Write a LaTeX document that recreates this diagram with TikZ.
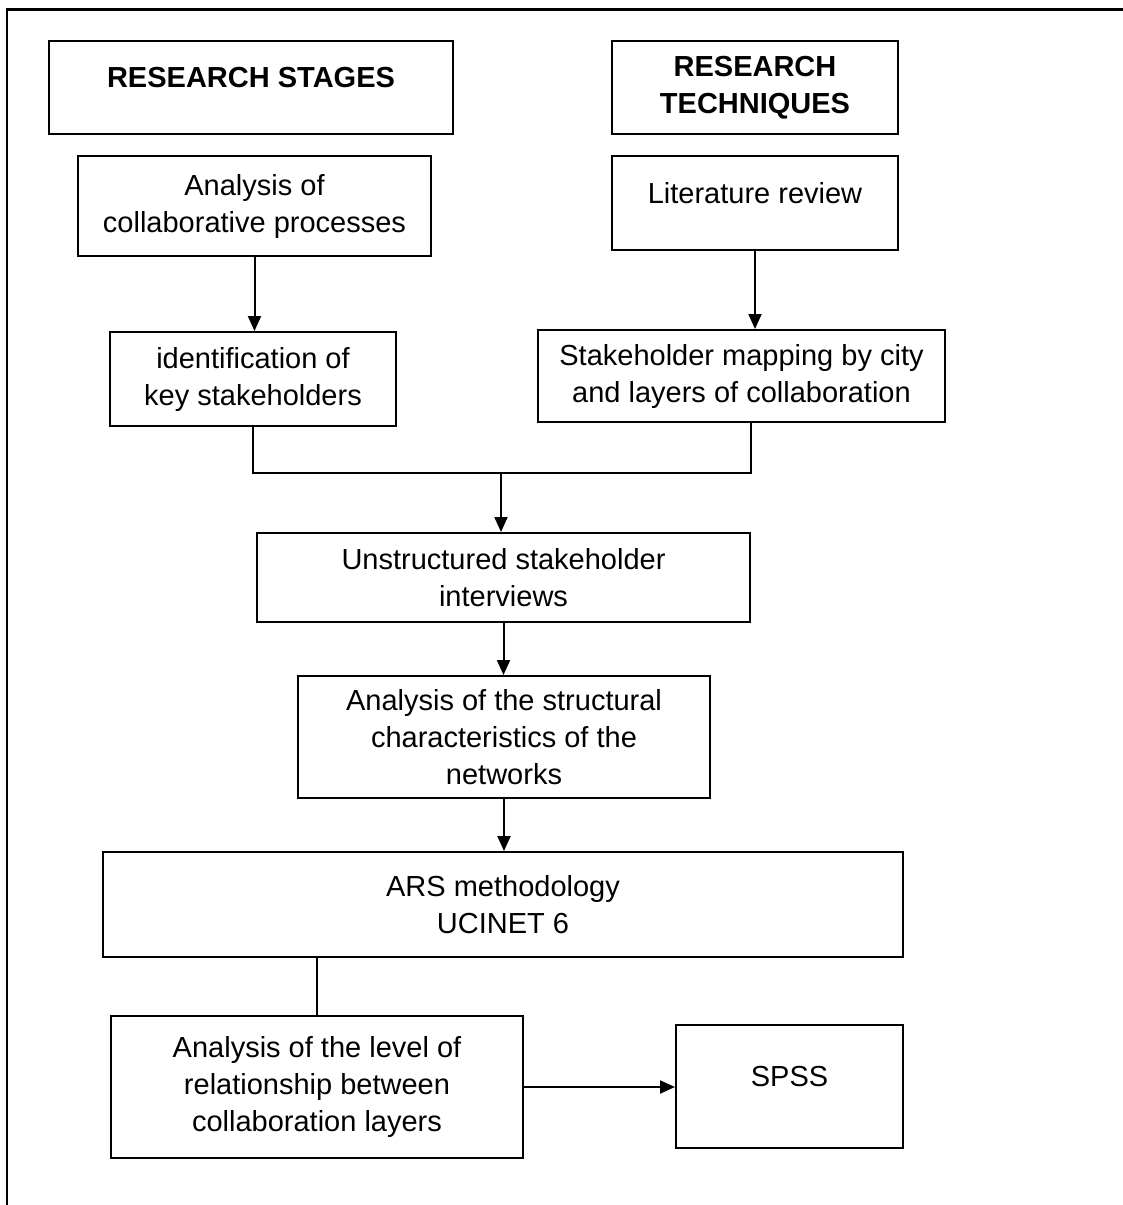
\documentclass[tikz,border=0pt]{standalone}
\usepackage{fontspec}
\setmainfont{Liberation Sans}
\usetikzlibrary{arrows.meta}
\begin{document}
\begin{tikzpicture}[x=1pt, y=-1pt,
		box/.style={draw, line width=2pt, inner sep=0pt, align=center, font=\fontsize{29}{37}\selectfont},
		head/.style={box, font=\fontsize{29}{37}\selectfont\bfseries},
		lift/.style={text depth=21pt},
		arr/.style={line width=2pt, -{Triangle[length=15pt, width=13pt]}},
		link/.style={line width=1.2pt}]
		\useasboundingbox (0,0) rectangle (1122,1205);
		\draw[line width=2.5pt] (7,1215) -- (7,9.5) -- (1130,9.5);
		\node[head, lift, minimum width=404pt, minimum height=93pt] (stages) at (251,87.5) {RESEARCH STAGES};
		\node[head, minimum width=286pt, minimum height=93pt] (techniques) at (755,87.5) {RESEARCH\\TECHNIQUES};
		\node[box, minimum width=353pt, minimum height=100pt] (collab) at (254.5,206) {Analysis of\\collaborative processes};
		\node[box, lift, minimum width=286pt, minimum height=94pt] (literature) at (755,203) {Literature review};
		\node[box, minimum width=286pt, minimum height=94pt] (keyholders) at (253,379) {identification of\\key stakeholders};
		\node[box, minimum width=407pt, minimum height=92pt] (mapping) at (741.5,376) {Stakeholder mapping by city\\and layers of collaboration};
		\node[box, minimum width=493pt, minimum height=89pt] (interviews) at (503.5,577.5) {Unstructured stakeholder\\interviews};
		\node[box, minimum width=412pt, minimum height=122pt] (structure) at (504,737) {Analysis of the structural\\characteristics of the\\networks};
		\node[box, minimum width=800pt, minimum height=105pt] (ars) at (503,904.5) {ARS methodology\\UCINET 6};
		\node[box, minimum width=412pt, minimum height=142pt] (layers) at (317,1087) {Analysis of the level of\\relationship between\\collaboration layers};
		\node[box, lift, minimum width=227pt, minimum height=123pt] (spss) at (789.5,1086.5) {SPSS};
		\coordinate (join) at (501,473);
		\draw[arr] (collab.south) -- (collab.south |- keyholders.north);
		\draw[arr] (literature.south) -- (literature.south |- mapping.north);
		\draw[link] (keyholders.south) |- (join) -| ([xshift=9.5pt]mapping.south);
		\draw[arr] (join) -- (join |- interviews.north);
		\draw[arr] (interviews.south) -- (interviews.south |- structure.north);
		\draw[arr] (structure.south) -- (structure.south |- ars.north);
		\draw[link] (layers.north) -- (layers.north |- ars.south);
		\draw[arr] (layers.east) -- (layers.east -| spss.west);
	\end{tikzpicture}
\end{document}
